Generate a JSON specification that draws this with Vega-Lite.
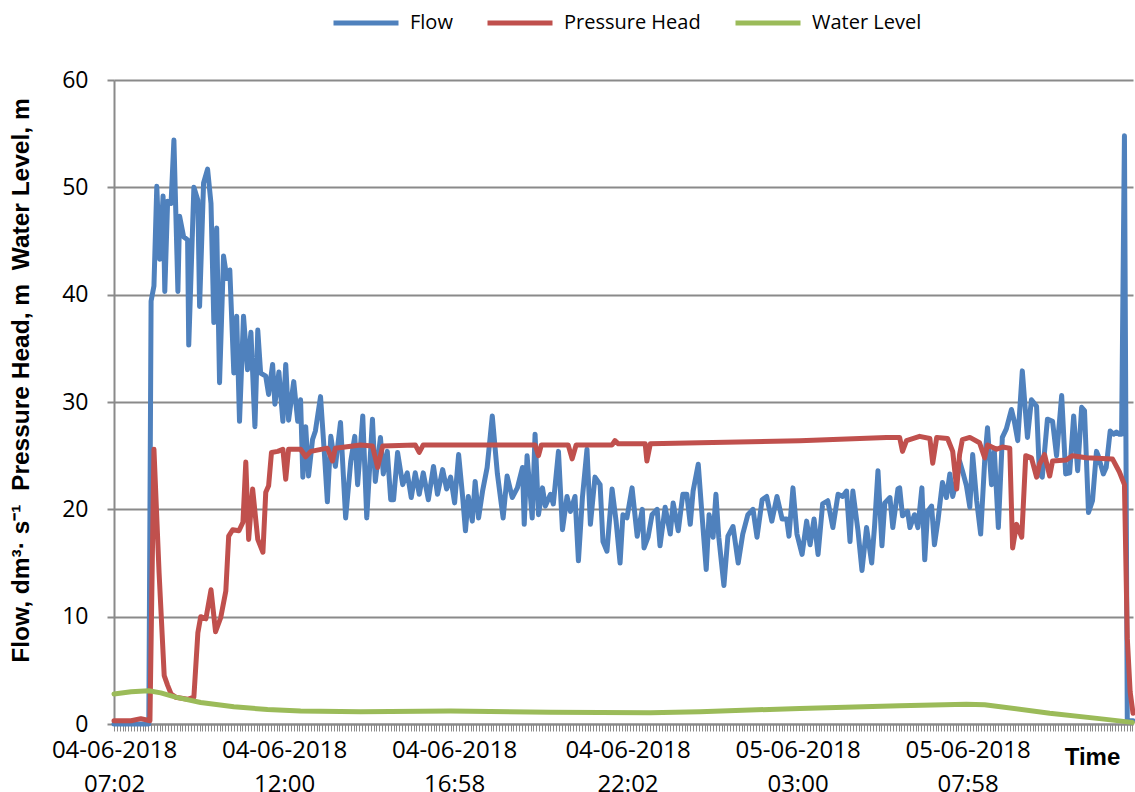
{
  "$schema": "https://vega.github.io/schema/vega-lite/v6.json",
  "width": 1019,
  "height": 644,
  "autosize": {"type": "none"},
  "padding": {"left": 114, "top": 80, "right": 2, "bottom": 68},
  "background": "white",
  "config": {"view": {"stroke": null}, "font": "Open Sans"},
  "datasets": {
    "readings": [
      {"time":"2018-06-04T07:02","series":"Flow","value":0},
      {"time":"2018-06-04T07:32","series":"Flow","value":0},
      {"time":"2018-06-04T08:03","series":"Flow","value":0},
      {"time":"2018-06-04T08:07","series":"Flow","value":39.4},
      {"time":"2018-06-04T08:12","series":"Flow","value":40.8},
      {"time":"2018-06-04T08:17","series":"Flow","value":50.1},
      {"time":"2018-06-04T08:22","series":"Flow","value":43.3},
      {"time":"2018-06-04T08:28","series":"Flow","value":49.2},
      {"time":"2018-06-04T08:31","series":"Flow","value":40.3},
      {"time":"2018-06-04T08:36","series":"Flow","value":48.7},
      {"time":"2018-06-04T08:42","series":"Flow","value":48.5},
      {"time":"2018-06-04T08:47","series":"Flow","value":54.4},
      {"time":"2018-06-04T08:54","series":"Flow","value":40.3},
      {"time":"2018-06-04T08:57","series":"Flow","value":47.3},
      {"time":"2018-06-04T09:04","series":"Flow","value":45.4},
      {"time":"2018-06-04T09:11","series":"Flow","value":45.1},
      {"time":"2018-06-04T09:13","series":"Flow","value":35.3},
      {"time":"2018-06-04T09:22","series":"Flow","value":50},
      {"time":"2018-06-04T09:29","series":"Flow","value":48.8},
      {"time":"2018-06-04T09:32","series":"Flow","value":38.9},
      {"time":"2018-06-04T09:39","series":"Flow","value":50.4},
      {"time":"2018-06-04T09:46","series":"Flow","value":51.7},
      {"time":"2018-06-04T09:52","series":"Flow","value":48.5},
      {"time":"2018-06-04T09:57","series":"Flow","value":37.4},
      {"time":"2018-06-04T10:02","series":"Flow","value":46.2},
      {"time":"2018-06-04T10:07","series":"Flow","value":31.8},
      {"time":"2018-06-04T10:14","series":"Flow","value":43.6},
      {"time":"2018-06-04T10:20","series":"Flow","value":41.5},
      {"time":"2018-06-04T10:25","series":"Flow","value":42.3},
      {"time":"2018-06-04T10:32","series":"Flow","value":32.7},
      {"time":"2018-06-04T10:37","series":"Flow","value":38},
      {"time":"2018-06-04T10:42","series":"Flow","value":28.2},
      {"time":"2018-06-04T10:49","series":"Flow","value":38},
      {"time":"2018-06-04T10:56","series":"Flow","value":33},
      {"time":"2018-06-04T11:02","series":"Flow","value":36.5},
      {"time":"2018-06-04T11:09","series":"Flow","value":27.7},
      {"time":"2018-06-04T11:14","series":"Flow","value":36.7},
      {"time":"2018-06-04T11:19","series":"Flow","value":32.7},
      {"time":"2018-06-04T11:28","series":"Flow","value":32.4},
      {"time":"2018-06-04T11:33","series":"Flow","value":30.7},
      {"time":"2018-06-04T11:40","series":"Flow","value":33.5},
      {"time":"2018-06-04T11:44","series":"Flow","value":29.8},
      {"time":"2018-06-04T11:51","series":"Flow","value":32.8},
      {"time":"2018-06-04T11:58","series":"Flow","value":28.2},
      {"time":"2018-06-04T12:03","series":"Flow","value":33.5},
      {"time":"2018-06-04T12:08","series":"Flow","value":28.3},
      {"time":"2018-06-04T12:17","series":"Flow","value":31.9},
      {"time":"2018-06-04T12:24","series":"Flow","value":28.2},
      {"time":"2018-06-04T12:29","series":"Flow","value":30.2},
      {"time":"2018-06-04T12:33","series":"Flow","value":23},
      {"time":"2018-06-04T12:38","series":"Flow","value":27.7},
      {"time":"2018-06-04T12:43","series":"Flow","value":23.1},
      {"time":"2018-06-04T12:50","series":"Flow","value":26.5},
      {"time":"2018-06-04T12:55","series":"Flow","value":27.3},
      {"time":"2018-06-04T13:04","series":"Flow","value":30.5},
      {"time":"2018-06-04T13:11","series":"Flow","value":25},
      {"time":"2018-06-04T13:16","series":"Flow","value":20.7},
      {"time":"2018-06-04T13:22","series":"Flow","value":26.8},
      {"time":"2018-06-04T13:30","series":"Flow","value":24},
      {"time":"2018-06-04T13:39","series":"Flow","value":28.1},
      {"time":"2018-06-04T13:48","series":"Flow","value":19.2},
      {"time":"2018-06-04T13:57","series":"Flow","value":24.5},
      {"time":"2018-06-04T14:04","series":"Flow","value":26.8},
      {"time":"2018-06-04T14:09","series":"Flow","value":22.3},
      {"time":"2018-06-04T14:18","series":"Flow","value":28.7},
      {"time":"2018-06-04T14:25","series":"Flow","value":19.2},
      {"time":"2018-06-04T14:35","series":"Flow","value":28.4},
      {"time":"2018-06-04T14:40","series":"Flow","value":22.6},
      {"time":"2018-06-04T14:49","series":"Flow","value":26.7},
      {"time":"2018-06-04T14:54","series":"Flow","value":23.3},
      {"time":"2018-06-04T15:01","series":"Flow","value":25.4},
      {"time":"2018-06-04T15:07","series":"Flow","value":20.9},
      {"time":"2018-06-04T15:12","series":"Flow","value":20.9},
      {"time":"2018-06-04T15:19","series":"Flow","value":25.3},
      {"time":"2018-06-04T15:28","series":"Flow","value":22.3},
      {"time":"2018-06-04T15:36","series":"Flow","value":23.4},
      {"time":"2018-06-04T15:43","series":"Flow","value":21.1},
      {"time":"2018-06-04T15:50","series":"Flow","value":23.4},
      {"time":"2018-06-04T15:57","series":"Flow","value":21.4},
      {"time":"2018-06-04T16:04","series":"Flow","value":23.4},
      {"time":"2018-06-04T16:13","series":"Flow","value":20.9},
      {"time":"2018-06-04T16:22","series":"Flow","value":24},
      {"time":"2018-06-04T16:29","series":"Flow","value":21.4},
      {"time":"2018-06-04T16:38","series":"Flow","value":23.7},
      {"time":"2018-06-04T16:45","series":"Flow","value":21.9},
      {"time":"2018-06-04T16:52","series":"Flow","value":23},
      {"time":"2018-06-04T16:59","series":"Flow","value":20.6},
      {"time":"2018-06-04T17:06","series":"Flow","value":25.1},
      {"time":"2018-06-04T17:13","series":"Flow","value":21.2},
      {"time":"2018-06-04T17:18","series":"Flow","value":18},
      {"time":"2018-06-04T17:23","series":"Flow","value":21.2},
      {"time":"2018-06-04T17:30","series":"Flow","value":18.9},
      {"time":"2018-06-04T17:35","series":"Flow","value":22.6},
      {"time":"2018-06-04T17:41","series":"Flow","value":19.2},
      {"time":"2018-06-04T17:48","series":"Flow","value":21.7},
      {"time":"2018-06-04T17:56","series":"Flow","value":23.9},
      {"time":"2018-06-04T18:05","series":"Flow","value":28.7},
      {"time":"2018-06-04T18:14","series":"Flow","value":23.3},
      {"time":"2018-06-04T18:24","series":"Flow","value":19.2},
      {"time":"2018-06-04T18:31","series":"Flow","value":23.1},
      {"time":"2018-06-04T18:40","series":"Flow","value":21.1},
      {"time":"2018-06-04T18:49","series":"Flow","value":22},
      {"time":"2018-06-04T18:58","series":"Flow","value":23.9},
      {"time":"2018-06-04T19:01","series":"Flow","value":18.6},
      {"time":"2018-06-04T19:06","series":"Flow","value":25},
      {"time":"2018-06-04T19:15","series":"Flow","value":19.2},
      {"time":"2018-06-04T19:20","series":"Flow","value":27},
      {"time":"2018-06-04T19:26","series":"Flow","value":19.5},
      {"time":"2018-06-04T19:33","series":"Flow","value":22},
      {"time":"2018-06-04T19:38","series":"Flow","value":20.3},
      {"time":"2018-06-04T19:47","series":"Flow","value":21.4},
      {"time":"2018-06-04T19:52","series":"Flow","value":20.5},
      {"time":"2018-06-04T20:01","series":"Flow","value":25.4},
      {"time":"2018-06-04T20:08","series":"Flow","value":18.1},
      {"time":"2018-06-04T20:16","series":"Flow","value":21.2},
      {"time":"2018-06-04T20:22","series":"Flow","value":19.8},
      {"time":"2018-06-04T20:30","series":"Flow","value":21.2},
      {"time":"2018-06-04T20:36","series":"Flow","value":15.2},
      {"time":"2018-06-04T20:43","series":"Flow","value":21.1},
      {"time":"2018-06-04T20:51","series":"Flow","value":25.6},
      {"time":"2018-06-04T20:57","series":"Flow","value":18.6},
      {"time":"2018-06-04T21:05","series":"Flow","value":23},
      {"time":"2018-06-04T21:14","series":"Flow","value":22.3},
      {"time":"2018-06-04T21:19","series":"Flow","value":17},
      {"time":"2018-06-04T21:26","series":"Flow","value":16.1},
      {"time":"2018-06-04T21:35","series":"Flow","value":21.9},
      {"time":"2018-06-04T21:42","series":"Flow","value":18.9},
      {"time":"2018-06-04T21:49","series":"Flow","value":15},
      {"time":"2018-06-04T21:54","series":"Flow","value":19.5},
      {"time":"2018-06-04T22:01","series":"Flow","value":19.2},
      {"time":"2018-06-04T22:10","series":"Flow","value":22},
      {"time":"2018-06-04T22:19","series":"Flow","value":17.5},
      {"time":"2018-06-04T22:28","series":"Flow","value":20},
      {"time":"2018-06-04T22:31","series":"Flow","value":16.4},
      {"time":"2018-06-04T22:38","series":"Flow","value":17.4},
      {"time":"2018-06-04T22:45","series":"Flow","value":19.5},
      {"time":"2018-06-04T22:54","series":"Flow","value":20},
      {"time":"2018-06-04T22:59","series":"Flow","value":16.6},
      {"time":"2018-06-04T23:08","series":"Flow","value":20.2},
      {"time":"2018-06-04T23:17","series":"Flow","value":17.7},
      {"time":"2018-06-04T23:22","series":"Flow","value":20.6},
      {"time":"2018-06-04T23:31","series":"Flow","value":18},
      {"time":"2018-06-04T23:39","series":"Flow","value":21.4},
      {"time":"2018-06-04T23:46","series":"Flow","value":21.4},
      {"time":"2018-06-04T23:52","series":"Flow","value":18.6},
      {"time":"2018-06-04T23:57","series":"Flow","value":21.7},
      {"time":"2018-06-05T00:06","series":"Flow","value":24.2},
      {"time":"2018-06-05T00:13","series":"Flow","value":19.2},
      {"time":"2018-06-05T00:20","series":"Flow","value":14.4},
      {"time":"2018-06-05T00:25","series":"Flow","value":19.5},
      {"time":"2018-06-05T00:32","series":"Flow","value":17.4},
      {"time":"2018-06-05T00:37","series":"Flow","value":21.4},
      {"time":"2018-06-05T00:42","series":"Flow","value":17.4},
      {"time":"2018-06-05T00:51","series":"Flow","value":12.9},
      {"time":"2018-06-05T00:58","series":"Flow","value":17.5},
      {"time":"2018-06-05T01:07","series":"Flow","value":18.4},
      {"time":"2018-06-05T01:16","series":"Flow","value":15},
      {"time":"2018-06-05T01:24","series":"Flow","value":17.7},
      {"time":"2018-06-05T01:33","series":"Flow","value":19.5},
      {"time":"2018-06-05T01:42","series":"Flow","value":20},
      {"time":"2018-06-05T01:49","series":"Flow","value":17.4},
      {"time":"2018-06-05T01:58","series":"Flow","value":20.9},
      {"time":"2018-06-05T02:06","series":"Flow","value":21.2},
      {"time":"2018-06-05T02:15","series":"Flow","value":18.9},
      {"time":"2018-06-05T02:24","series":"Flow","value":21.2},
      {"time":"2018-06-05T02:33","series":"Flow","value":19.1},
      {"time":"2018-06-05T02:41","series":"Flow","value":19.1},
      {"time":"2018-06-05T02:45","series":"Flow","value":17.5},
      {"time":"2018-06-05T02:52","series":"Flow","value":22},
      {"time":"2018-06-05T02:59","series":"Flow","value":17.7},
      {"time":"2018-06-05T03:08","series":"Flow","value":15.8},
      {"time":"2018-06-05T03:16","series":"Flow","value":18.9},
      {"time":"2018-06-05T03:22","series":"Flow","value":16.7},
      {"time":"2018-06-05T03:29","series":"Flow","value":19.1},
      {"time":"2018-06-05T03:36","series":"Flow","value":15.8},
      {"time":"2018-06-05T03:44","series":"Flow","value":20.5},
      {"time":"2018-06-05T03:53","series":"Flow","value":20.8},
      {"time":"2018-06-05T04:02","series":"Flow","value":18.3},
      {"time":"2018-06-05T04:11","series":"Flow","value":21.4},
      {"time":"2018-06-05T04:19","series":"Flow","value":21.2},
      {"time":"2018-06-05T04:26","series":"Flow","value":21.7},
      {"time":"2018-06-05T04:32","series":"Flow","value":17},
      {"time":"2018-06-05T04:37","series":"Flow","value":21.7},
      {"time":"2018-06-05T04:46","series":"Flow","value":18},
      {"time":"2018-06-05T04:53","series":"Flow","value":14.3},
      {"time":"2018-06-05T05:01","series":"Flow","value":18.3},
      {"time":"2018-06-05T05:10","series":"Flow","value":15},
      {"time":"2018-06-05T05:15","series":"Flow","value":18.4},
      {"time":"2018-06-05T05:21","series":"Flow","value":23.6},
      {"time":"2018-06-05T05:28","series":"Flow","value":16.6},
      {"time":"2018-06-05T05:33","series":"Flow","value":20.6},
      {"time":"2018-06-05T05:42","series":"Flow","value":21.1},
      {"time":"2018-06-05T05:47","series":"Flow","value":18.3},
      {"time":"2018-06-05T05:56","series":"Flow","value":21.9},
      {"time":"2018-06-05T05:59","series":"Flow","value":22},
      {"time":"2018-06-05T06:04","series":"Flow","value":19.4},
      {"time":"2018-06-05T06:13","series":"Flow","value":19.8},
      {"time":"2018-06-05T06:17","series":"Flow","value":18.3},
      {"time":"2018-06-05T06:25","series":"Flow","value":19.5},
      {"time":"2018-06-05T06:31","series":"Flow","value":18.3},
      {"time":"2018-06-05T06:38","series":"Flow","value":22},
      {"time":"2018-06-05T06:43","series":"Flow","value":15.3},
      {"time":"2018-06-05T06:48","series":"Flow","value":19.8},
      {"time":"2018-06-05T06:55","series":"Flow","value":20.3},
      {"time":"2018-06-05T07:00","series":"Flow","value":16.7},
      {"time":"2018-06-05T07:06","series":"Flow","value":18.9},
      {"time":"2018-06-05T07:14","series":"Flow","value":22.5},
      {"time":"2018-06-05T07:21","series":"Flow","value":21.1},
      {"time":"2018-06-05T07:27","series":"Flow","value":23.3},
      {"time":"2018-06-05T07:32","series":"Flow","value":21.2},
      {"time":"2018-06-05T07:39","series":"Flow","value":22.8},
      {"time":"2018-06-05T07:44","series":"Flow","value":24.5},
      {"time":"2018-06-05T07:49","series":"Flow","value":23.6},
      {"time":"2018-06-05T07:56","series":"Flow","value":22.2},
      {"time":"2018-06-05T08:02","series":"Flow","value":20.2},
      {"time":"2018-06-05T08:07","series":"Flow","value":25.1},
      {"time":"2018-06-05T08:14","series":"Flow","value":20.8},
      {"time":"2018-06-05T08:21","series":"Flow","value":17.7},
      {"time":"2018-06-05T08:28","series":"Flow","value":24.5},
      {"time":"2018-06-05T08:33","series":"Flow","value":27.6},
      {"time":"2018-06-05T08:40","series":"Flow","value":22.3},
      {"time":"2018-06-05T08:45","series":"Flow","value":25.4},
      {"time":"2018-06-05T08:52","series":"Flow","value":18.3},
      {"time":"2018-06-05T08:59","series":"Flow","value":26.7},
      {"time":"2018-06-05T09:06","series":"Flow","value":27.5},
      {"time":"2018-06-05T09:15","series":"Flow","value":29.3},
      {"time":"2018-06-05T09:20","series":"Flow","value":28.2},
      {"time":"2018-06-05T09:26","series":"Flow","value":26.4},
      {"time":"2018-06-05T09:34","series":"Flow","value":32.9},
      {"time":"2018-06-05T09:43","series":"Flow","value":26.7},
      {"time":"2018-06-05T09:50","series":"Flow","value":30.2},
      {"time":"2018-06-05T09:59","series":"Flow","value":29.6},
      {"time":"2018-06-05T10:04","series":"Flow","value":23.3},
      {"time":"2018-06-05T10:09","series":"Flow","value":23},
      {"time":"2018-06-05T10:18","series":"Flow","value":28.4},
      {"time":"2018-06-05T10:27","series":"Flow","value":28.2},
      {"time":"2018-06-05T10:34","series":"Flow","value":25},
      {"time":"2018-06-05T10:43","series":"Flow","value":30.6},
      {"time":"2018-06-05T10:50","series":"Flow","value":23.3},
      {"time":"2018-06-05T10:57","series":"Flow","value":23.4},
      {"time":"2018-06-05T11:04","series":"Flow","value":28.7},
      {"time":"2018-06-05T11:11","series":"Flow","value":23.6},
      {"time":"2018-06-05T11:18","series":"Flow","value":29.5},
      {"time":"2018-06-05T11:23","series":"Flow","value":29.2},
      {"time":"2018-06-05T11:30","series":"Flow","value":19.7},
      {"time":"2018-06-05T11:37","series":"Flow","value":20.8},
      {"time":"2018-06-05T11:44","series":"Flow","value":25.4},
      {"time":"2018-06-05T11:47","series":"Flow","value":25},
      {"time":"2018-06-05T11:56","series":"Flow","value":23.3},
      {"time":"2018-06-05T12:01","series":"Flow","value":23.9},
      {"time":"2018-06-05T12:08","series":"Flow","value":27.3},
      {"time":"2018-06-05T12:14","series":"Flow","value":27},
      {"time":"2018-06-05T12:19","series":"Flow","value":27.2},
      {"time":"2018-06-05T12:24","series":"Flow","value":27},
      {"time":"2018-06-05T12:28","series":"Flow","value":27},
      {"time":"2018-06-05T12:33","series":"Flow","value":54.8},
      {"time":"2018-06-05T12:38","series":"Flow","value":0.3},
      {"time":"2018-06-05T12:48","series":"Flow","value":0.3},
      {"time":"2018-06-04T07:02","series":"Pressure Head","value":0.3},
      {"time":"2018-06-04T07:32","series":"Pressure Head","value":0.3},
      {"time":"2018-06-04T07:49","series":"Pressure Head","value":0.5},
      {"time":"2018-06-04T08:05","series":"Pressure Head","value":0.3},
      {"time":"2018-06-04T08:12","series":"Pressure Head","value":25.6},
      {"time":"2018-06-04T08:21","series":"Pressure Head","value":14.1},
      {"time":"2018-06-04T08:30","series":"Pressure Head","value":4.5},
      {"time":"2018-06-04T08:36","series":"Pressure Head","value":3.6},
      {"time":"2018-06-04T08:42","series":"Pressure Head","value":2.8},
      {"time":"2018-06-04T08:50","series":"Pressure Head","value":2.5},
      {"time":"2018-06-04T09:11","series":"Pressure Head","value":2.3},
      {"time":"2018-06-04T09:22","series":"Pressure Head","value":2.5},
      {"time":"2018-06-04T09:29","series":"Pressure Head","value":8.5},
      {"time":"2018-06-04T09:34","series":"Pressure Head","value":10},
      {"time":"2018-06-04T09:43","series":"Pressure Head","value":9.8},
      {"time":"2018-06-04T09:52","series":"Pressure Head","value":12.5},
      {"time":"2018-06-04T10:00","series":"Pressure Head","value":8.6},
      {"time":"2018-06-04T10:09","series":"Pressure Head","value":9.9},
      {"time":"2018-06-04T10:18","series":"Pressure Head","value":12.4},
      {"time":"2018-06-04T10:23","series":"Pressure Head","value":17.5},
      {"time":"2018-06-04T10:30","series":"Pressure Head","value":18.1},
      {"time":"2018-06-04T10:41","series":"Pressure Head","value":18},
      {"time":"2018-06-04T10:48","series":"Pressure Head","value":18.8},
      {"time":"2018-06-04T10:53","series":"Pressure Head","value":24.4},
      {"time":"2018-06-04T10:58","series":"Pressure Head","value":17.2},
      {"time":"2018-06-04T11:05","series":"Pressure Head","value":21.9},
      {"time":"2018-06-04T11:14","series":"Pressure Head","value":17.2},
      {"time":"2018-06-04T11:23","series":"Pressure Head","value":16},
      {"time":"2018-06-04T11:28","series":"Pressure Head","value":21.6},
      {"time":"2018-06-04T11:33","series":"Pressure Head","value":22.2},
      {"time":"2018-06-04T11:38","series":"Pressure Head","value":25.3},
      {"time":"2018-06-04T11:49","series":"Pressure Head","value":25.4},
      {"time":"2018-06-04T11:58","series":"Pressure Head","value":25.6},
      {"time":"2018-06-04T12:03","series":"Pressure Head","value":22.8},
      {"time":"2018-06-04T12:08","series":"Pressure Head","value":25.6},
      {"time":"2018-06-04T12:29","series":"Pressure Head","value":25.6},
      {"time":"2018-06-04T12:38","series":"Pressure Head","value":24.9},
      {"time":"2018-06-04T12:47","series":"Pressure Head","value":25.4},
      {"time":"2018-06-04T13:16","series":"Pressure Head","value":25.7},
      {"time":"2018-06-04T13:25","series":"Pressure Head","value":24.5},
      {"time":"2018-06-04T13:30","series":"Pressure Head","value":25.7},
      {"time":"2018-06-04T14:14","series":"Pressure Head","value":26},
      {"time":"2018-06-04T14:35","series":"Pressure Head","value":25.9},
      {"time":"2018-06-04T14:44","series":"Pressure Head","value":23.9},
      {"time":"2018-06-04T14:53","series":"Pressure Head","value":25.9},
      {"time":"2018-06-04T15:50","series":"Pressure Head","value":26},
      {"time":"2018-06-04T15:57","series":"Pressure Head","value":25.3},
      {"time":"2018-06-04T16:04","series":"Pressure Head","value":26},
      {"time":"2018-06-04T17:44","series":"Pressure Head","value":26},
      {"time":"2018-06-04T19:20","series":"Pressure Head","value":26},
      {"time":"2018-06-04T19:26","series":"Pressure Head","value":25},
      {"time":"2018-06-04T19:31","series":"Pressure Head","value":26},
      {"time":"2018-06-04T20:18","series":"Pressure Head","value":26},
      {"time":"2018-06-04T20:25","series":"Pressure Head","value":24.7},
      {"time":"2018-06-04T20:32","series":"Pressure Head","value":26},
      {"time":"2018-06-04T21:35","series":"Pressure Head","value":26},
      {"time":"2018-06-04T21:40","series":"Pressure Head","value":26.4},
      {"time":"2018-06-04T21:46","series":"Pressure Head","value":26.1},
      {"time":"2018-06-04T22:33","series":"Pressure Head","value":26.1},
      {"time":"2018-06-04T22:36","series":"Pressure Head","value":24.5},
      {"time":"2018-06-04T22:42","series":"Pressure Head","value":26.1},
      {"time":"2018-06-05T00:09","series":"Pressure Head","value":26.2},
      {"time":"2018-06-05T03:04","series":"Pressure Head","value":26.4},
      {"time":"2018-06-05T05:36","series":"Pressure Head","value":26.7},
      {"time":"2018-06-05T05:59","series":"Pressure Head","value":26.7},
      {"time":"2018-06-05T06:04","series":"Pressure Head","value":25.4},
      {"time":"2018-06-05T06:11","series":"Pressure Head","value":26.4},
      {"time":"2018-06-05T06:34","series":"Pressure Head","value":26.8},
      {"time":"2018-06-05T06:52","series":"Pressure Head","value":26.6},
      {"time":"2018-06-05T06:57","series":"Pressure Head","value":24.3},
      {"time":"2018-06-05T07:04","series":"Pressure Head","value":26.7},
      {"time":"2018-06-05T07:23","series":"Pressure Head","value":26.6},
      {"time":"2018-06-05T07:32","series":"Pressure Head","value":25.4},
      {"time":"2018-06-05T07:39","series":"Pressure Head","value":21.9},
      {"time":"2018-06-05T07:44","series":"Pressure Head","value":25.1},
      {"time":"2018-06-05T07:49","series":"Pressure Head","value":26.5},
      {"time":"2018-06-05T08:02","series":"Pressure Head","value":26.7},
      {"time":"2018-06-05T08:19","series":"Pressure Head","value":26.2},
      {"time":"2018-06-05T08:28","series":"Pressure Head","value":24.8},
      {"time":"2018-06-05T08:33","series":"Pressure Head","value":26},
      {"time":"2018-06-05T08:49","series":"Pressure Head","value":25.6},
      {"time":"2018-06-05T08:59","series":"Pressure Head","value":25.8},
      {"time":"2018-06-05T09:12","series":"Pressure Head","value":25.7},
      {"time":"2018-06-05T09:17","series":"Pressure Head","value":16.4},
      {"time":"2018-06-05T09:24","series":"Pressure Head","value":18.6},
      {"time":"2018-06-05T09:33","series":"Pressure Head","value":17.4},
      {"time":"2018-06-05T09:40","series":"Pressure Head","value":25},
      {"time":"2018-06-05T09:50","series":"Pressure Head","value":24.8},
      {"time":"2018-06-05T09:59","series":"Pressure Head","value":23},
      {"time":"2018-06-05T10:04","series":"Pressure Head","value":24.2},
      {"time":"2018-06-05T10:13","series":"Pressure Head","value":25.1},
      {"time":"2018-06-05T10:22","series":"Pressure Head","value":23.1},
      {"time":"2018-06-05T10:27","series":"Pressure Head","value":24.5},
      {"time":"2018-06-05T10:51","series":"Pressure Head","value":24.6},
      {"time":"2018-06-05T11:02","series":"Pressure Head","value":25},
      {"time":"2018-06-05T11:26","series":"Pressure Head","value":24.8},
      {"time":"2018-06-05T12:12","series":"Pressure Head","value":24.7},
      {"time":"2018-06-05T12:24","series":"Pressure Head","value":23.5},
      {"time":"2018-06-05T12:33","series":"Pressure Head","value":22.3},
      {"time":"2018-06-05T12:38","series":"Pressure Head","value":8},
      {"time":"2018-06-05T12:43","series":"Pressure Head","value":3},
      {"time":"2018-06-05T12:48","series":"Pressure Head","value":1},
      {"time":"2018-06-04T07:02","series":"Water Level","value":2.8},
      {"time":"2018-06-04T07:32","series":"Water Level","value":3.0},
      {"time":"2018-06-04T08:03","series":"Water Level","value":3.1},
      {"time":"2018-06-04T08:24","series":"Water Level","value":2.9},
      {"time":"2018-06-04T08:50","series":"Water Level","value":2.5},
      {"time":"2018-06-04T09:34","series":"Water Level","value":2.0},
      {"time":"2018-06-04T10:32","series":"Water Level","value":1.6},
      {"time":"2018-06-04T11:31","series":"Water Level","value":1.35},
      {"time":"2018-06-04T12:29","series":"Water Level","value":1.2},
      {"time":"2018-06-04T14:14","series":"Water Level","value":1.15},
      {"time":"2018-06-04T16:52","series":"Water Level","value":1.2},
      {"time":"2018-06-04T19:47","series":"Water Level","value":1.1},
      {"time":"2018-06-04T22:42","series":"Water Level","value":1.05},
      {"time":"2018-06-05T00:09","series":"Water Level","value":1.15},
      {"time":"2018-06-05T03:04","series":"Water Level","value":1.45},
      {"time":"2018-06-05T05:59","series":"Water Level","value":1.7},
      {"time":"2018-06-05T07:56","series":"Water Level","value":1.85},
      {"time":"2018-06-05T08:28","series":"Water Level","value":1.8},
      {"time":"2018-06-05T10:22","series":"Water Level","value":1.0},
      {"time":"2018-06-05T11:49","series":"Water Level","value":0.5},
      {"time":"2018-06-05T12:47","series":"Water Level","value":0.15}
    ]
  },
  "data": {"name": "readings"},
  "mark": {"type": "line", "strokeWidth": 5, "strokeJoin": "round", "strokeCap": "round"},
  "encoding": {
    "x": {
      "field": "time", "type": "temporal",
      "scale": {"domain": [
        {"year": 2018, "month": 6, "date": 4, "hours": 7, "minutes": 2},
        {"year": 2018, "month": 6, "date": 5, "hours": 12, "minutes": 48}
      ]},
      "axis": {
        "tickCount": 1800,
        "labelExpr": "indexof(['04 07:02','04 12:00','04 16:58','04 22:02','05 03:00','05 07:58'], timeFormat(datum.value, '%d %H:%M')) >= 0 ? [timeFormat(datum.value, '%d-%m-%Y'), timeFormat(datum.value, '%H:%M')] : ''",
        "labelFont": "Open Sans",
        "labelFontSize": 24,
        "labelColor": "black",
        "labelLineHeight": 34,
        "labelPadding": 7,
        "labelFlush": false,
        "labelOverlap": false,
        "labelBound": false,
        "ticks": true,
        "tickSize": 7,
        "tickWidth": 1,
        "tickColor": {"condition": {"test": "minutes(datum.value) % 5 == 2", "value": "#8a8a8a"}, "value": "transparent"},
        "grid": false,
        "domain": true,
        "domainColor": "#8a8a8a",
        "domainWidth": 2,
        "title": "Time",
        "titleFont": "Liberation Sans",
        "titleFontWeight": "bold",
        "titleFontSize": 24,
        "titleColor": "black",
        "titleX": 978,
        "titleY": 33,
        "titleAlign": "center",
        "titleBaseline": "middle"
      }
    },
    "y": {
      "field": "value", "type": "quantitative",
      "scale": {"domain": [0, 60]},
      "axis": {
        "values": [0, 10, 20, 30, 40, 50, 60],
        "grid": true,
        "gridColor": "#8a8a8a",
        "gridWidth": 2,
        "domainColor": "#8a8a8a",
        "domainWidth": 2,
        "tickColor": "#8a8a8a",
        "tickWidth": 2,
        "tickSize": 7,
        "labelFont": "Open Sans",
        "labelFontSize": 23,
        "labelColor": "black",
        "labelPadding": 19,
        "title": "Flow, dm³· s⁻¹\u00a0\u00a0Pressure Head, m\u00a0\u00a0Water Level, m",
        "titleFont": "Liberation Sans",
        "titleFontWeight": "bold",
        "titleFontSize": 24.5,
        "titleColor": "black",
        "titleX": -93,
        "titleY": 300,
        "titleAngle": -90,
        "titleAlign": "center",
        "titleBaseline": "middle"
      }
    },
    "color": {
      "field": "series", "type": "nominal",
      "scale": {"domain": ["Flow", "Pressure Head", "Water Level"], "range": ["#4F81BD", "#C0504D", "#9BBB59"]},
      "legend": {
        "orient": "none",
        "legendX": 217,
        "legendY": -92,
        "direction": "horizontal",
        "title": null,
        "symbolType": "stroke",
        "symbolSize": 4225,
        "symbolStrokeWidth": 5,
        "labelFont": "Open Sans",
        "labelFontSize": 20,
        "labelColor": "black",
        "labelOffset": 9,
        "columnPadding": 24,
        "padding": 0
      }
    }
  }
}
